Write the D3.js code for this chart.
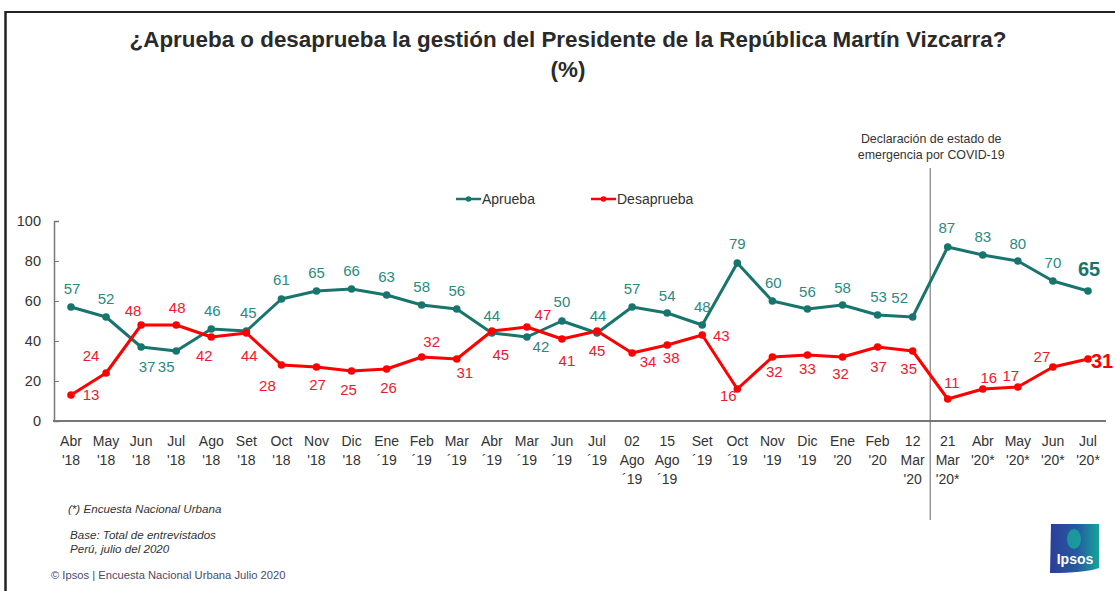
<!DOCTYPE html>
<html>
<head>
<meta charset="utf-8">
<script src="https://cdn.jsdelivr.net/npm/d3@7"></script>
<style>
  body { margin: 0; background: #fff; }
  svg { display: block; font-family: "Liberation Sans", Arial, sans-serif; }
</style>
</head>
<body>
<svg id="chart" width="1115" height="591"></svg>
<script>
// Survey waves (label lines per wave)
const categories = [
  ["Abr", "'18"], ["May", "'18"], ["Jun", "'18"], ["Jul", "'18"], ["Ago", "'18"],
  ["Set", "'18"], ["Oct", "'18"], ["Nov", "'18"], ["Dic", "'18"], ["Ene", "´19"],
  ["Feb", "´19"], ["Mar", "´19"], ["Abr", "´19"], ["Mar", "´19"], ["Jun", "´19"],
  ["Jul", "´19"], ["02", "Ago", "´19"], ["15", "Ago", "´19"], ["Set", "´19"], ["Oct", "´19"],
  ["Nov", "'19"], ["Dic", "'19"], ["Ene", "'20"], ["Feb", "'20"], ["12", "Mar", "'20"],
  ["21", "Mar", "'20*"], ["Abr", "'20*"], ["May", "'20*"], ["Jun", "'20*"], ["Jul", "'20*"]
];
const aprueba = [57, 52, 37, 35, 46, 45, 61, 65, 66, 63, 58, 56, 44, 42, 50, 44, 57, 54, 48, 79, 60, 56, 58, 53, 52, 87, 83, 80, 70, 65];
const desaprueba = [13, 24, 48, 48, 42, 44, 28, 27, 25, 26, 32, 31, 45, 47, 41, 45, 34, 38, 43, 16, 32, 33, 32, 37, 35, 11, 16, 17, 27, 31];
const yTicks = [0, 20, 40, 60, 80, 100];

// Label placement per point: [dx, dy] offsets from the marker
const aprLabelPos = [
  [1,-18],[0,-18],[6,20],[-10,16],[1,-18],[2,-18],[0,-19],[0,-18],[0,-18],[0,-18],
  [0,-18],[0,-18],[0,-17],[14,10],[0,-19],[1,-17],[0,-18],[0,-17],[0,-18],[0,-19],
  [1,-18],[0,-17],[0,-17],[1,-18],[-13,-19],[-1,-19],[0,-18],[0,-17],[0,-18],[1,-22]
];
const desLabelPos = [
  [20,0],[-15,-17],[-8,-14],[1,-17],[-7,19],[3,23],[-14,21],[1,18],[-3,19],[2,19],
  [10,-15],[8,14],[9,24],[16,-12],[5,22],[0,20],[16,9],[4,13],[19,1],[-9,7],
  [2,15],[0,14],[-2,17],[1,20],[-4,18],[4,-16],[6,-11],[-7,-11],[-11,-10],[14,2]
];

const svg = d3.select("#chart");
const W = 1115, H = 591;
const teal = "#17756e", tealText = "#2a8a81";
const red = "#ff0000", redText = "#f0182d";

// Frame lines
svg.append("line").attr("x1", 5).attr("x2", W).attr("y1", 12).attr("y2", 12)
  .attr("stroke", "#222").attr("stroke-width", 2);
svg.append("line").attr("x1", 5.5).attr("x2", 5.5).attr("y1", 11).attr("y2", H)
  .attr("stroke", "#222").attr("stroke-width", 2.5);

// Title
const title = svg.append("g").attr("font-size", 22.4).attr("font-weight", "bold")
  .attr("fill", "#2a2a2a").attr("text-anchor", "middle");
title.append("text").attr("x", 568).attr("y", 47)
  .text("¿Aprueba o desaprueba la gestión del Presidente de la República Martín Vizcarra?");
title.append("text").attr("x", 568).attr("y", 77).text("(%)");

// Scales
const x = d3.scalePoint().domain(d3.range(categories.length)).range([71, 1088]);
const y = d3.scaleLinear().domain([0, 100]).range([421, 221]);

// Y axis (inner ticks)
const yAxis = svg.append("g").attr("transform", "translate(54,0)")
  .call(d3.axisLeft(y).tickValues(yTicks).tickSize(-5).tickPadding(13));
yAxis.select(".domain").attr("stroke", "#777").attr("stroke-width", 1.5);
yAxis.selectAll(".tick line").attr("stroke", "#777");
yAxis.selectAll(".tick text").attr("font-size", 14.5).attr("fill", "#333")
  .attr("font-family", "Liberation Sans, Arial, sans-serif");

// X axis line
svg.append("line").attr("x1", 53).attr("x2", 1106).attr("y1", y(0)).attr("y2", y(0))
  .attr("stroke", "#777").attr("stroke-width", 2);

// X labels
const xl = svg.append("g");
categories.forEach((lines, i) => {
  const t = xl.append("text").attr("x", x(i)).attr("y", 446).attr("text-anchor", "middle")
    .attr("font-size", 14).attr("fill", "#333");
  lines.forEach((s, k) => {
    t.append("tspan").attr("x", x(i)).attr("dy", k === 0 ? 0 : 19).text(s);
  });
});

// COVID-19 marker line & note
const xCovid = (x(24) + x(25)) / 2;
svg.append("line").attr("x1", xCovid).attr("x2", xCovid).attr("y1", 168).attr("y2", 520)
  .attr("stroke", "#666").attr("stroke-width", 1);
svg.append("text").attr("x", xCovid + 1).attr("y", 143).attr("text-anchor", "middle")
  .attr("font-size", 12.4).attr("fill", "#333").text("Declaración de estado de");
svg.append("text").attr("x", xCovid + 1).attr("y", 159).attr("text-anchor", "middle")
  .attr("font-size", 12.4).attr("fill", "#333").text("emergencia por COVID-19");

// Legend
const legend = [
  { name: "Aprueba", color: teal, x: 456 },
  { name: "Desaprueba", color: red, x: 591 }
];
legend.forEach(l => {
  const g = svg.append("g").attr("transform", `translate(${l.x},199)`);
  g.append("line").attr("x1", 0).attr("x2", 25).attr("stroke", l.color).attr("stroke-width", 2.5);
  g.append("circle").attr("cx", 12.5).attr("r", 2.8).attr("fill", l.color);
  g.append("text").attr("x", 26).attr("y", 5).attr("font-size", 14).attr("fill", "#333").text(l.name);
});

// Series
const line = d3.line().x((d, i) => x(i)).y(d => y(d));
function drawSeries(values, color, textColor, pos) {
  svg.append("path").datum(values).attr("d", line)
    .attr("fill", "none").attr("stroke", color).attr("stroke-width", 3)
    .attr("stroke-linejoin", "round");
  svg.append("g").selectAll("circle").data(values).join("circle")
    .attr("cx", (d, i) => x(i)).attr("cy", d => y(d)).attr("r", 3.8).attr("fill", color);
  const last = values.length - 1;
  svg.append("g").selectAll("text").data(values).join("text")
    .attr("x", (d, i) => x(i) + pos[i][0])
    .attr("y", (d, i) => y(d) + pos[i][1])
    .attr("dy", "0.35em")
    .attr("text-anchor", "middle")
    .attr("font-size", (d, i) => i === last ? 20 : 15)
    .attr("font-weight", (d, i) => i === last ? "bold" : "normal")
    .attr("fill", (d, i) => i === last ? color : textColor)
    .text(d => d);
}
drawSeries(aprueba, teal, tealText, aprLabelPos);
drawSeries(desaprueba, red, redText, desLabelPos);

// Footnotes
const notes = svg.append("g").attr("font-size", 11.6).attr("font-style", "italic").attr("fill", "#333");
notes.append("text").attr("x", 68).attr("y", 513).text("(*) Encuesta Nacional Urbana");
notes.append("text").attr("x", 70).attr("y", 539).text("Base: Total de entrevistados");
notes.append("text").attr("x", 70).attr("y", 553).text("Perú, julio del 2020");
svg.append("text").attr("x", 51).attr("y", 579).attr("font-size", 11.2).attr("fill", "#4b4a6e")
  .text("© Ipsos | Encuesta Nacional Urbana Julio 2020");

// Ipsos logo
const defs = svg.append("defs");
const grad = defs.append("linearGradient").attr("id", "ipsosGrad")
  .attr("x1", "0%").attr("x2", "100%").attr("y1", "0%").attr("y2", "0%");
grad.append("stop").attr("offset", "0%").attr("stop-color", "#2b3e9a");
grad.append("stop").attr("offset", "55%").attr("stop-color", "#255a9f");
grad.append("stop").attr("offset", "100%").attr("stop-color", "#15a39a");
const logo = svg.append("g").attr("transform", "translate(1050,524)");
logo.append("path").attr("d", "M1,0 L49,0 L49,44 Q35,49 0,49 Z").attr("fill", "url(#ipsosGrad)");
logo.append("ellipse").attr("cx", 24).attr("cy", 15).attr("rx", 7).attr("ry", 10).attr("fill", "#19a89c").attr("opacity", 0.8);
logo.append("text").attr("x", 25).attr("y", 40).attr("text-anchor", "middle")
  .attr("font-size", 14).attr("font-weight", "bold").attr("fill", "#fff").text("Ipsos");
</script>
</body>
</html>
